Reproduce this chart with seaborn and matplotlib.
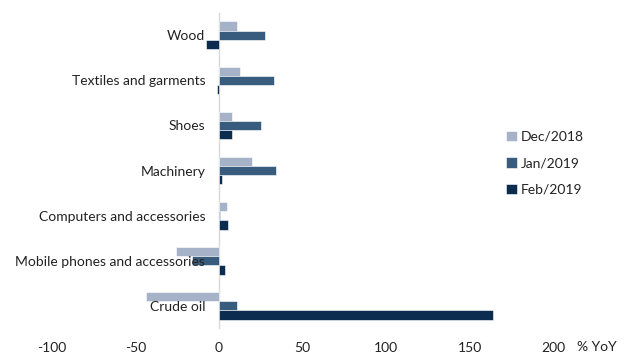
import matplotlib
matplotlib.use("Agg")
import matplotlib.pyplot as plt
import seaborn as sns
import pandas as pd
import numpy as np

categories = ["Wood", "Textiles and garments", "Shoes", "Machinery",
              "Computers and accessories", "Mobile phones and accessories", "Crude oil"]
series = ["Dec/2018", "Jan/2019", "Feb/2019"]
dec_2018 = [10.8, 12.4, 8.0, 19.6, 4.6, -25.8, -43.8]
jan_2019 = [27.4, 32.8, 25.4, 34.0, 0.3, -16.0, 10.8]
feb_2019 = [-8.0, -1.5, 8.0, 1.8, 5.2, 3.4, 164.0]
xticks = [-100, -50, 0, 50, 100, 150, 200]

colors = ["#A0B0CC", "#2B5D8A", "#002B5A"]

rows = []
for s, vals in zip(series, [dec_2018, jan_2019, feb_2019]):
    for c, v in zip(categories, vals):
        rows.append({"category": c, "series": s, "value": v})
df = pd.DataFrame(rows)

sns.set_style("white")
plt.rcParams["font.family"] = ["Lato", "DejaVu Sans"]

fig = plt.figure(figsize=(6.3, 3.59), dpi=100)
ax = fig.add_axes([0.0825, 0.086, 0.7955, 0.878])

sns.barplot(data=df, y="category", x="value", hue="series", order=categories,
            hue_order=series, palette=colors, orient="h", width=0.62,
            edgecolor="white", linewidth=0.4, ax=ax, legend=True)

ax.set_axisbelow(False)
ax.set_xlim(-100, 200)
ax.set_ylim(len(categories) - 0.5, -0.5)
ax.set_xticks(xticks)
ax.set_xticklabels([str(t) for t in xticks], fontsize=10, color="#222222")
ax.set_xlabel("")
ax.set_ylabel("")

for side in ["top", "right", "bottom"]:
    ax.spines[side].set_visible(False)
ax.spines["left"].set_position(("data", 0))
ax.spines["left"].set_color("#D9D9D9")
ax.spines["left"].set_linewidth(1.0)
ax.spines["left"].set_zorder(0.5)

ax.tick_params(axis="y", which="major", length=0, pad=10, labelsize=10, labelcolor="#222222")
ax.set_yticks(np.arange(-0.5, len(categories) + 0.5, 1.0), minor=True)
ax.tick_params(axis="y", which="minor", length=4, color="#D9D9D9", width=1.0)
ax.tick_params(axis="x", length=0, pad=10)

leg = ax.legend(loc="center left", frameon=False, fontsize=10,
                handlelength=0.75, handleheight=0.75,
                handletextpad=0.3, labelspacing=1.05)
leg.set_bbox_to_anchor((0.784, 0.545), transform=fig.transFigure)
for t in leg.get_texts():
    t.set_color("#222222")

fig.text(597 / 630, 1 - 347 / 359, "% YoY", fontsize=10, color="#222222",
         ha="center", va="center")

fig.savefig("out.png", dpi=100)
